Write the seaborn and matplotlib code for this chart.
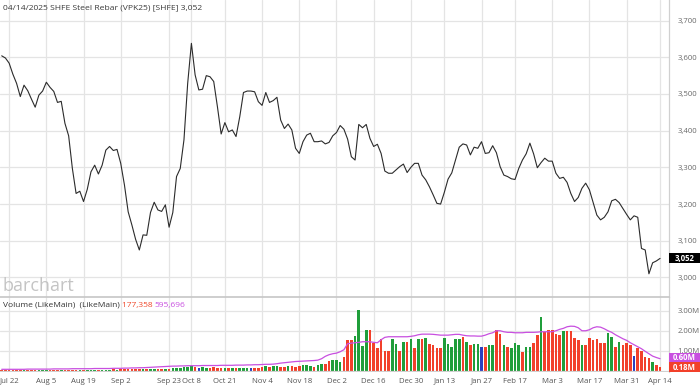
import numpy as np
import pandas as pd
import matplotlib
matplotlib.use("Agg")
import matplotlib.pyplot as plt
from matplotlib.patches import Rectangle
import seaborn as sns

# ---------------- data ----------------
price = [3604, 3598, 3584, 3554, 3529, 3493, 3524, 3509, 3486, 3464,
         3497, 3508, 3532, 3518, 3507, 3477, 3480, 3420, 3386, 3297,
         3229, 3235, 3207, 3240, 3288, 3306, 3282, 3306, 3347, 3357,
         3346, 3349, 3311, 3252, 3179, 3143, 3104, 3075, 3116, 3115,
         3177, 3205, 3184, 3180, 3198, 3137, 3177, 3275, 3297, 3375,
         3529, 3638, 3552, 3511, 3513, 3550, 3547, 3534, 3465, 3391,
         3422, 3397, 3402, 3384, 3438, 3504, 3508, 3508, 3506, 3479,
         3469, 3504, 3477, 3482, 3491, 3429, 3406, 3418, 3402, 3352,
         3338, 3370, 3388, 3393, 3370, 3370, 3372, 3364, 3368, 3386,
         3395, 3414, 3404, 3377, 3329, 3320, 3417, 3408, 3417, 3379,
         3357, 3363, 3338, 3290, 3284, 3284, 3293, 3302, 3309, 3286,
         3300, 3311, 3311, 3279, 3266, 3247, 3225, 3202, 3200, 3232,
         3268, 3285, 3320, 3355, 3364, 3361, 3334, 3355, 3352, 3370,
         3338, 3340, 3359, 3340, 3302, 3279, 3275, 3269, 3267, 3297,
         3320, 3337, 3366, 3337, 3299, 3313, 3325, 3317, 3317, 3284,
         3270, 3273, 3259, 3229, 3207, 3218, 3243, 3257, 3239, 3204,
         3170, 3157, 3164, 3179, 3209, 3213, 3204, 3188, 3172, 3157,
         3168, 3164, 3079, 3075, 3010, 3040, 3045, 3052]

volume_m = [0.02, 0.02, 0.03, 0.02, 0.02, 0.03, 0.02, 0.03, 0.03, 0.02,
            0.03, 0.03, 0.04, 0.03, 0.03, 0.04, 0.03, 0.04, 0.04, 0.05,
            0.05, 0.04, 0.05, 0.06, 0.05, 0.05, 0.06, 0.05, 0.06, 0.06,
            0.07, 0.06, 0.07, 0.08, 0.08, 0.09, 0.10, 0.08, 0.09, 0.08,
            0.09, 0.10, 0.10, 0.09, 0.10, 0.11, 0.12, 0.15, 0.14, 0.17,
            0.20, 0.22, 0.18, 0.12, 0.17, 0.14, 0.13, 0.17, 0.14, 0.12,
            0.13, 0.12, 0.13, 0.14, 0.12, 0.14, 0.15, 0.12, 0.14, 0.15,
            0.20, 0.22, 0.20, 0.23, 0.22, 0.17, 0.20, 0.23, 0.25, 0.20,
            0.23, 0.27, 0.28, 0.24, 0.20, 0.28, 0.33, 0.32, 0.48, 0.53,
            0.53, 0.45, 0.70, 1.53, 1.53, 1.73, 3.03, 1.23, 2.03, 2.03,
            1.37, 1.12, 1.57, 1.00, 1.00, 1.57, 1.33, 1.00, 1.45, 1.45,
            1.57, 1.12, 1.57, 1.57, 1.62, 1.33, 1.28, 1.12, 1.12, 1.65,
            1.33, 1.20, 1.58, 1.58, 1.67, 1.42, 1.28, 1.33, 1.33, 1.17,
            1.17, 1.28, 1.28, 2.03, 1.83, 1.28, 1.17, 1.12, 1.40, 1.28,
            0.95, 1.20, 1.20, 1.40, 1.78, 2.67, 1.95, 2.03, 2.03, 1.83,
            1.80, 2.00, 2.00, 2.00, 1.65, 1.53, 1.28, 1.28, 1.62, 1.53,
            1.57, 1.37, 1.37, 1.90, 1.70, 1.17, 1.45, 1.28, 1.37, 1.28,
            0.73, 1.12, 0.98, 0.70, 0.62, 0.45, 0.28, 0.18]

# bar colour codes: u = green, d = red, n = blue
bar_dir = ("dddddduddd" "uuuddduddd" "duduuuduuu" "duddddddud" "uudduduuuu"
           "uudnuudddd" "ududuuundd" "duduuddudd" "duuuduuddu" "uuddduuuud"
           "ddddduudud" "udududdddu" "uuuududuun" "duudduduuu" "duuddudddd"
           "dudddduddd" "ddduududdd" "nddddudd")

oi_m = [0.07, 0.07, 0.07, 0.07, 0.07, 0.07, 0.07, 0.08, 0.08, 0.08,
        0.08, 0.08, 0.08, 0.08, 0.09, 0.09, 0.09, 0.09, 0.09, 0.10,
        0.10, 0.10, 0.10, 0.10, 0.10, 0.11, 0.11, 0.11, 0.11, 0.11,
        0.12, 0.12, 0.12, 0.13, 0.13, 0.14, 0.14, 0.15, 0.15, 0.16,
        0.17, 0.18, 0.19, 0.20, 0.21, 0.22, 0.23, 0.23, 0.24, 0.24,
        0.25, 0.25, 0.25, 0.25, 0.26, 0.26, 0.26, 0.26, 0.26, 0.27,
        0.27, 0.27, 0.27, 0.28, 0.28, 0.28, 0.29, 0.29, 0.30, 0.30,
        0.31, 0.32, 0.32, 0.33, 0.35, 0.38, 0.40, 0.42, 0.44, 0.46,
        0.47, 0.48, 0.49, 0.50, 0.51, 0.53, 0.60, 0.72, 0.80, 0.85,
        0.88, 0.95, 1.05, 1.35, 1.38, 1.40, 1.42, 1.45, 1.45, 1.45,
        1.42, 1.40, 1.55, 1.67, 1.70, 1.70, 1.70, 1.70, 1.70, 1.70,
        1.72, 1.75, 1.80, 1.83, 1.83, 1.83, 1.82, 1.80, 1.78, 1.78,
        1.78, 1.80, 1.82, 1.82, 1.78, 1.75, 1.74, 1.74, 1.73, 1.73,
        1.78, 1.85, 1.90, 2.00, 2.00, 1.95, 1.92, 1.92, 1.90, 1.90,
        1.90, 1.92, 1.92, 1.92, 1.93, 1.95, 1.95, 1.95, 1.95, 2.00,
        2.07, 2.12, 2.20, 2.23, 2.22, 2.15, 2.00, 2.00, 2.05, 2.15,
        2.20, 2.18, 2.10, 2.00, 1.92, 1.80, 1.70, 1.60, 1.52, 1.40,
        1.30, 1.20, 1.10, 0.97, 0.85, 0.73, 0.66, 0.60]

holidays = ["2024-09-16", "2024-09-17", "2024-10-01", "2024-10-02", "2024-10-03",
            "2024-10-04", "2024-10-07", "2025-01-01", "2025-01-28", "2025-01-29",
            "2025-01-30", "2025-01-31", "2025-02-03", "2025-02-04", "2025-04-04"]
tick_dates = ["2024-07-22", "2024-08-05", "2024-08-19", "2024-09-02", "2024-09-23",
              "2024-10-08", "2024-10-21", "2024-11-04", "2024-11-18", "2024-12-02",
              "2024-12-16", "2024-12-30", "2025-01-13", "2025-01-27", "2025-02-17",
              "2025-03-03", "2025-03-17", "2025-03-31", "2025-04-14"]
tick_labels = ["Jul 22", "Aug 5", "Aug 19", "Sep 2", "Sep 23", "Oct 8", "Oct 21",
               "Nov 4", "Nov 18", "Dec 2", "Dec 16", "Dec 30", "Jan 13", "Jan 27",
               "Feb 17", "Mar 3", "Mar 17", "Mar 31", "Apr 14"]
price_ticks = [3000, 3100, 3200, 3300, 3400, 3500, 3600, 3700]
vol_ticks = [1.0, 2.0, 3.0]

# ---------------- frame ----------------
days = pd.bdate_range("2024-07-18", "2025-04-14")
days = days[~days.isin(pd.to_datetime(holidays))]
df = pd.DataFrame({"date": days, "price": price, "vol": volume_m, "oi": oi_m,
                   "dir": list(bar_dir)})
df["i"] = np.arange(len(df))
tick_pos = [int(df.index[df["date"] == pd.Timestamp(d)][0]) for d in tick_dates]

# ---------------- figure ----------------
sns.set_theme(style="white")
plt.rcParams["font.family"] = ["Open Sans", "DejaVu Sans"]
W, H = 700, 389
fig = plt.figure(figsize=(W / 100, H / 100), dpi=100)
fig.patch.set_facecolor("white")

def box(x0, y0, x1, y1):
    return [x0 / W, 1 - y1 / H, (x1 - x0) / W, (y1 - y0) / H]

grid_c = "#e4e4e4"
ax = fig.add_axes(box(0, 0, 669, 297))
axv = fig.add_axes(box(0, 297, 669, 372), sharex=ax)

x_lo, x_hi = -0.457, 179.4

# price line
sns.lineplot(data=df, x="i", y="price", ax=ax, color="#2b2b2b", linewidth=0.8)
ax.set_xlim(x_lo, x_hi)
ax.set_ylim(2946.8, 3756.1)
ax.set_yticks(price_ticks)
ax.set_yticklabels([f"{v:,}" for v in price_ticks])
ax.yaxis.tick_right()
ax.tick_params(axis="y", length=0, pad=6, labelsize=5.6, labelcolor="#6a6a6a")
ax.tick_params(axis="x", length=0, labelbottom=False)
ax.set_xticks(tick_pos)
ax.grid(True, color=grid_c, linewidth=0.9)
ax.set_axisbelow(True)
ax.set_xlabel("")
ax.set_ylabel("")
for s in ["top", "left", "bottom"]:
    ax.spines[s].set_visible(False)
ax.spines["right"].set_color("#d0d0d0")
ax.spines["right"].set_linewidth(0.9)

# volume bars
pal = {"u": "#1f9e3a", "d": "#f2402a", "n": "#2c3fbf"}
sns.barplot(data=df, x="i", y="vol", hue="dir", palette=pal, native_scale=True,
            width=0.7, dodge=False, legend=False, ax=axv, saturation=1,
            edgecolor="none", linewidth=0)
sns.lineplot(data=df, x="i", y="oi", ax=axv, color="#c84fe0", linewidth=0.9)
axv.set_xlim(x_lo, x_hi)
axv.set_ylim(-0.065, 3.69)
axv.set_yticks(vol_ticks)
axv.set_yticklabels([f"{v:.2f}M" for v in vol_ticks])
axv.yaxis.tick_right()
axv.tick_params(axis="y", length=0, pad=6, labelsize=5.6, labelcolor="#6a6a6a")
axv.set_xticks(tick_pos)
axv.set_xticklabels(tick_labels)
axv.tick_params(axis="x", length=0, pad=4, labelsize=5.6, labelcolor="#555555")
axv.grid(True, color=grid_c, linewidth=0.9)
axv.set_axisbelow(True)
axv.axhline(0, color="#d0d0d0", linewidth=0.9)
axv.set_xlabel("")
axv.set_ylabel("")
for s in ["left", "bottom"]:
    axv.spines[s].set_visible(False)
axv.spines["top"].set_color("#c8c8c8")
axv.spines["right"].set_color("#d0d0d0")
axv.spines["right"].set_linewidth(0.9)

# header texts
fig.text(3 / W, 1 - 8 / H, "04/14/2025 SHFE Steel Rebar (VPK25) [SHFE] 3,052",
         fontsize=6.1, color="#3a3a3a", va="center", ha="left")
fig.text(2 / W, 1 - 291 / H, "barchart", fontsize=13, color="#c4c4c4",
         va="baseline", ha="left")
t1 = fig.text(3 / W, 1 - 305 / H, "Volume (LikeMain)  (LikeMain) ", fontsize=6.0,
              color="#333333", va="center", ha="left")
fig.canvas.draw()
bb = t1.get_window_extent()
t2 = fig.text(bb.x1 / W, 1 - 305 / H, "177,358 ", fontsize=6.0, color="#f04a2c",
              va="center", ha="left")
fig.canvas.draw()
bb2 = t2.get_window_extent()
fig.text(bb2.x1 / W, 1 - 305 / H, "595,696", fontsize=6.0, color="#c84fe0",
         va="center", ha="left")

# last value tags
def tag(y0, y1, text, fc):
    fig.patches.append(Rectangle((669 / W, 1 - y1 / H), 31 / W, (y1 - y0) / H,
                                 transform=fig.transFigure, facecolor=fc,
                                 edgecolor="none", zorder=5))
    fig.text(684.5 / W, 1 - (y0 + y1) / 2 / H, text, fontsize=5.6, color="white",
             fontweight="bold", va="center", ha="center", zorder=6)

tag(253, 263, "3,052", "#000000")
tag(353, 362, "0.60M", "#c84fe0")
tag(362, 372, "0.18M", "#f2402a")

fig.savefig("out.png", dpi=100)
